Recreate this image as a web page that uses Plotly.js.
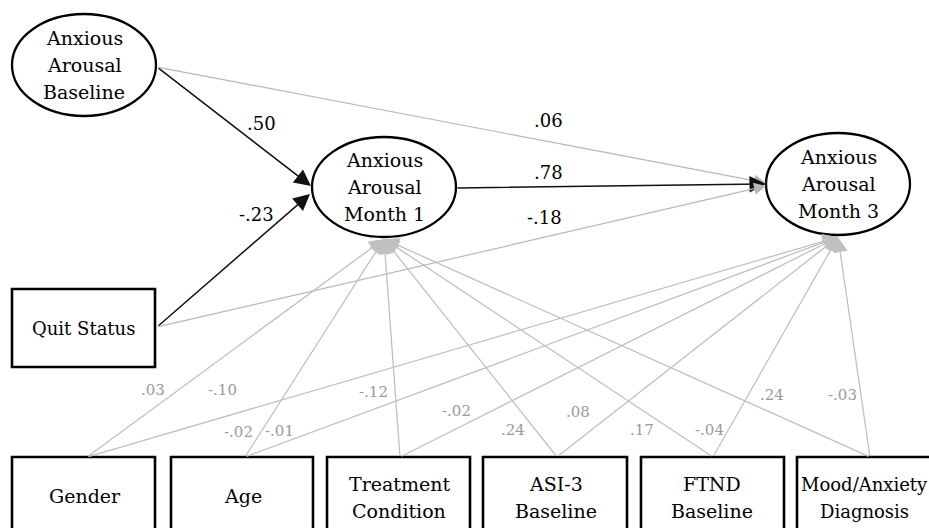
<!DOCTYPE html>
<html>
<head>
<meta charset="utf-8">
<script src="https://cdn.plot.ly/plotly-3.0.1.min.js"></script>
<style>html,body{margin:0;padding:0;background:#fff;}#chart{width:929px;height:528px;}</style>
</head>
<body>
<div id="chart"></div>
<script>
// ---- data ----
const latentNames = ['Anxious Arousal Baseline', 'Anxious Arousal Month 1', 'Anxious Arousal Month 3'];
const latentLines = [['Anxious', 'Arousal', 'Baseline'], ['Anxious', 'Arousal', 'Month 1'], ['Anxious', 'Arousal', 'Month 3']];
const predictorName = 'Quit Status';
const covariates = ['Gender', 'Age', 'Treatment Condition', 'ASI-3 Baseline', 'FTND Baseline', 'Mood/Anxiety Diagnosis'];
const covariateLines = [['Gender'], ['Age'], ['Treatment', 'Condition'], ['ASI-3', 'Baseline'], ['FTND', 'Baseline'], ['Mood/Anxiety', 'Diagnosis']];
const structFrom = ['Baseline', 'Quit', 'Baseline', 'Month1', 'Quit'];
const structTo = ['Month1', 'Month1', 'Month3', 'Month3', 'Month3'];
const structCoef = ['.50', '-.23', '.06', '.78', '-.18'];
const covToMonth1 = ['.03', '-.02', '-.12', '.24', '.17', '.24'];
const covToMonth3 = ['-.10', '-.01', '-.02', '.08', '-.04', '-.03'];

// ---- layout geometry (pixel space) ----
const ell = {Baseline: {cx: 84, cy: 65, rx: 72, ry: 51}, Month1: {cx: 384, cy: 187, rx: 72, ry: 50}, Month3: {cx: 838, cy: 184, rx: 72, ry: 51}};
const quitBox = {x0: 12, y0: 289, x1: 155, y1: 367};
const covBoxX = [[12, 155], [171, 313], [327, 470], [483, 627], [641, 784], [797, 940]];
const covBoxY = [457, 545];
const covTop = [87, 245, 400, 557, 713, 870];
const structStart = {Baseline: [157, 67], Quit: [157, 327], Month1: [456, 188]};
const structEnd = {'Baseline-Month1': [311, 186], 'Quit-Month1': [310, 194], 'Baseline-Month3': [766, 183], 'Month1-Month3': [766, 184], 'Quit-Month3': [766, 186]};
const structColor = ['#111', '#111', '#b8b8b8', '#111', '#b8b8b8'];
const structLabelPos = [[261, 123], [256, 214], [548, 120], [548, 172], [544, 217]];
const m1Tip = [384, 239], m3Tip = [838, 237];
const m1LabelPos = [[153, 390], [238, 432], [373, 392], [513, 430], [642, 430], [772, 395]];
const m3LabelPos = [[222, 390], [279, 431], [456, 411], [578, 412], [709, 430], [842, 395]];

const FONT = '"DejaVu Serif", serif';
const shapes = [];
const annotations = [];

function txt(x, y, t, size, color) {
  annotations.push({x: x, y: y, xref: 'x', yref: 'y', text: t, showarrow: false,
    font: {family: FONT, size: size, color: color}, xanchor: 'center', yanchor: 'middle'});
}
function arrow(from, to, color, w, size) {
  annotations.push({x: to[0], y: to[1], ax: from[0], ay: from[1], xref: 'x', yref: 'y', axref: 'x', ayref: 'y',
    text: '', showarrow: true, arrowhead: 2, arrowsize: size, arrowwidth: w, arrowcolor: color, standoff: 0, startstandoff: 0});
}

covariates.forEach((c, i) => {
  arrow([covTop[i], covBoxY[0]], m1Tip, '#c0c0c0', 1.3, 2.3);
  arrow([covTop[i], covBoxY[0]], m3Tip, '#c0c0c0', 1.3, 2.3);
});
structFrom.forEach((f, i) => {
  const key = f + '-' + structTo[i];
  const dark = structColor[i] === '#111';
  arrow(structStart[f], structEnd[key], structColor[i], dark ? 1.5 : 1.2, dark ? 2.2 : 2.0);
});

['Baseline', 'Month1', 'Month3'].forEach((k, i) => {
  const e = ell[k];
  shapes.push({type: 'circle', xref: 'x', yref: 'y', x0: e.cx - e.rx, x1: e.cx + e.rx, y0: e.cy - e.ry, y1: e.cy + e.ry,
    line: {color: '#000', width: 2.3}, fillcolor: '#fff', layer: 'above'});
  latentLines[i].forEach((l, j) => txt(e.cx, e.cy - 27 + 27 * j, l, 19, '#000'));
});
shapes.push({type: 'rect', xref: 'x', yref: 'y', x0: quitBox.x0, x1: quitBox.x1, y0: quitBox.y0, y1: quitBox.y1,
  line: {color: '#000', width: 2.6}, fillcolor: '#fff', layer: 'above'});
txt((quitBox.x0 + quitBox.x1) / 2, (quitBox.y0 + quitBox.y1) / 2, predictorName, 18, '#000');
covariates.forEach((c, i) => {
  shapes.push({type: 'rect', xref: 'x', yref: 'y', x0: covBoxX[i][0], x1: covBoxX[i][1], y0: covBoxY[0], y1: covBoxY[1],
    line: {color: '#000', width: 2.6}, fillcolor: '#fff', layer: 'above'});
  const lines = covariateLines[i];
  const last = i === covariates.length - 1;
  const cx = last ? 864 : covTop[i] - 1;
  const fs = last ? 18 : 19;
  if (lines.length === 1) txt(cx - 1, 496, lines[0], fs, '#000');
  else lines.forEach((l, j) => txt(cx, 484 + 27 * j, l, fs, '#000'));
});
structCoef.forEach((c, i) => txt(structLabelPos[i][0], structLabelPos[i][1], c, 18, '#000'));
covToMonth1.forEach((c, i) => txt(m1LabelPos[i][0], m1LabelPos[i][1], c, 15, '#9a9a9a'));
covToMonth3.forEach((c, i) => txt(m3LabelPos[i][0], m3LabelPos[i][1], c, 15, '#9a9a9a'));

const layout = {
  width: 929, height: 528, margin: {l: 0, r: 0, t: 0, b: 0},
  paper_bgcolor: '#fff', plot_bgcolor: '#fff', showlegend: false,
  font: {family: FONT},
  xaxis: {range: [0, 929], visible: false, fixedrange: true},
  yaxis: {range: [528, 0], visible: false, fixedrange: true},
  shapes: shapes, annotations: annotations
};
Plotly.newPlot('chart', [{x: [], y: [], type: 'scatter', mode: 'markers', hoverinfo: 'skip'}], layout, {staticPlot: true, displayModeBar: false});
</script>
</body>
</html>
